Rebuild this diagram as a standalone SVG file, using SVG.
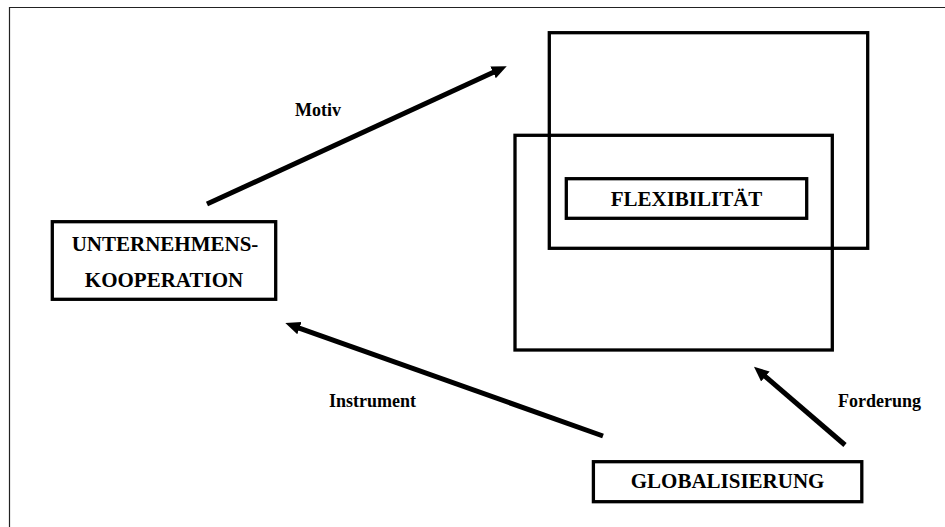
<svg xmlns="http://www.w3.org/2000/svg" width="945" height="527" viewBox="0 0 945 527">
<defs>
<style>
.box{fill:none;stroke:#000;stroke-width:3.3}
.node{font-family:"Liberation Serif","Times New Roman",serif;font-weight:bold;font-size:21px;text-anchor:middle;fill:#000}
.lbl{font-family:"Liberation Serif","Times New Roman",serif;font-weight:bold;font-size:18px;text-anchor:middle;fill:#000}
.arr{stroke:#000;stroke-width:5;fill:none;marker-end:url(#ah)}
</style>
<marker id="ah" markerUnits="userSpaceOnUse" markerWidth="16" markerHeight="14" refX="1" refY="7" orient="auto" viewBox="0 0 16 14">
<path d="M0,0.5 L15,7 L0,13.5 z" fill="#000"/>
</marker>
</defs>
<rect width="945" height="527" fill="#fff"/>
<g id="frame">
<line x1="9" y1="7.5" x2="945" y2="7.5" stroke="#222" stroke-width="1.2"/>
<line x1="9.5" y1="7" x2="9.5" y2="527" stroke="#222" stroke-width="1.2"/>
</g>
<g id="rect-top"><rect class="box" x="549.3" y="32.7" width="318.4" height="215.6"/></g>
<g id="rect-bottom"><rect class="box" x="515" y="135.3" width="317.3" height="214.7"/></g>
<g id="flexibilitaet">
<rect class="box" x="566.3" y="178.7" width="240.4" height="39.6"/>
<text class="node" x="686.5" y="205.7">FLEXIBILITÄT</text>
</g>
<g id="unternehmenskooperation">
<rect class="box" x="52.3" y="221.7" width="223.4" height="77.6"/>
<text class="node" x="165" y="250.7">UNTERNEHMENS-</text>
<text class="node" x="164" y="287">KOOPERATION</text>
</g>
<g id="globalisierung">
<rect class="box" x="593.4" y="461.7" width="268.4" height="40"/>
<text class="node" x="727.6" y="488.3">GLOBALISIERUNG</text>
</g>
<g id="connectors">
<line class="arr" x1="207" y1="204" x2="494" y2="72"/>
<line class="arr" x1="603" y1="436" x2="298.5" y2="327.8"/>
<line class="arr" x1="845" y1="445" x2="764.6" y2="375.8"/>
</g>
<g id="labels">
<text class="lbl" x="318" y="116">Motiv</text>
<text class="lbl" x="372.5" y="407">Instrument</text>
<text class="lbl" x="879.5" y="407">Forderung</text>
</g>
</svg>
